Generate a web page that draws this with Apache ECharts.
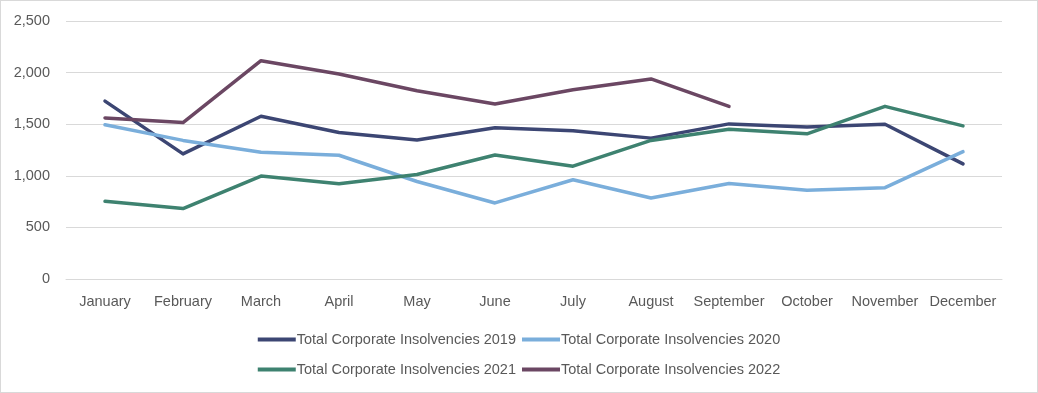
<!DOCTYPE html>
<html><head><meta charset="utf-8">
<script src="https://cdn.jsdelivr.net/npm/echarts@6/dist/echarts.min.js"></script>
<style>html,body{margin:0;padding:0;background:#fff}#c{width:1038px;height:393px;box-sizing:border-box;border:1px solid #d9d9d9}</style>
</head><body><div id="c"></div>
<script>
const months = ['January','February','March','April','May','June','July','August','September','October','November','December'];
const s2019 = [1724,1212,1577,1420,1346,1465,1436,1365,1503,1474,1500,1115];
const s2020 = [1494,1343,1228,1199,945,737,962,785,926,859,885,1234];
const s2021 = [753,683,997,923,1013,1202,1093,1343,1452,1407,1673,1484];
const s2022 = [1561,1516,2115,1987,1824,1695,1833,1939,1673];
const names = ['Total Corporate Insolvencies 2019','Total Corporate Insolvencies 2020','Total Corporate Insolvencies 2021','Total Corporate Insolvencies 2022'];
const colors = ['#3c4673','#7aaedb','#3e8270','#6b4763'];
const font = 'Liberation Sans';
const fs = 14.5;
const chart = echarts.init(document.getElementById('c'));
const mk = (i, d) => ({name: names[i], type: 'line', data: d, symbol: 'none', smooth: false,
  lineStyle: {width: 3.5, color: colors[i], cap: 'round', join: 'round'}, itemStyle: {color: colors[i]}});
const legendBase = {icon: 'rect', itemWidth: 38, itemHeight: 4, itemGap: 6,
  textStyle: {color: '#595959', fontSize: fs, fontFamily: font, padding: [0,0,0,-4]}, left: 'center'};
chart.setOption({
  animation: false,
  textStyle: {fontFamily: font},
  grid: {left: 65, right: 35, top: 20, bottom: 113, containLabel: false},
  legend: [
    Object.assign({}, legendBase, {data: [names[0], names[1]], top: 326}),
    Object.assign({}, legendBase, {data: [names[2], names[3]], top: 356})
  ],
  xAxis: {type: 'category', data: months, boundaryGap: true,
    axisLine: {show: true, lineStyle: {color: '#d9d9d9', width: 1}}, axisTick: {show: false},
    axisLabel: {color: '#595959', fontSize: fs, fontFamily: font, margin: 15, interval: 0}},
  yAxis: {type: 'value', min: 0, max: 2500, interval: 500,
    axisLine: {show: false}, axisTick: {show: false},
    splitLine: {lineStyle: {color: '#d9d9d9', width: 1}},
    axisLabel: {color: '#595959', fontSize: fs, fontFamily: font, margin: 16,
      formatter: v => v.toLocaleString('en-US')}},
  series: [mk(0, s2019), mk(1, s2020), mk(2, s2021), mk(3, s2022)]
});
</script></body></html>
